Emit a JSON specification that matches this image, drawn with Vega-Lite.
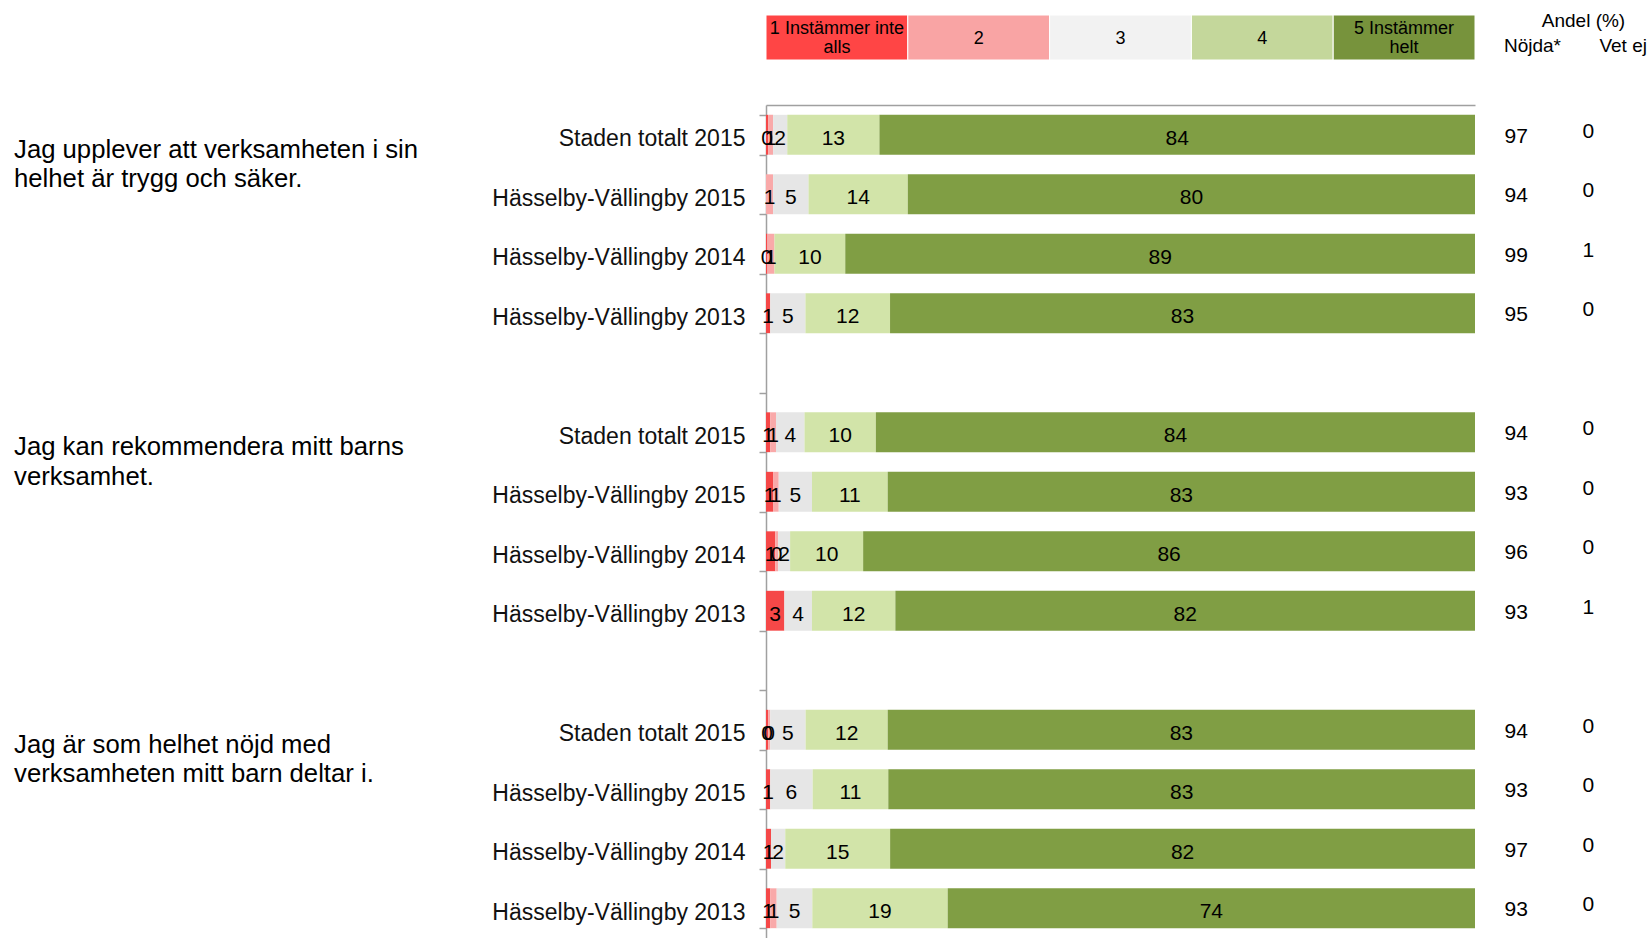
{
  "$schema": "https://vega.github.io/schema/vega-lite/v6.json",
  "autosize": {"type": "pad"},
  "padding": {"left": 14, "top": 12, "right": 0, "bottom": 0},
  "background": "white",
  "config": {
    "view": {"stroke": null},
    "font": "Liberation Sans",
    "axisY": {"labelFontSize": 23, "labelColor": "#111", "labelLimit": 500, "labelPadding": 14, "labelOffset": 4,
      "tickBand": "extent", "tickSize": 7, "tickColor": "#A0A0A0", "tickWidth": 1.5, "domainColor": "#A0A0A0", "domainWidth": 1.5, "grid": false, "title": null},
    "axisX": {"labels": false, "ticks": false, "grid": false, "domainColor": "#A0A0A0", "domainWidth": 1.5, "title": null}
  },
  "datasets": {
    "seg": [
      {"slot": "a1|Staden totalt 2015", "cat": 1, "v": 0.3},
      {"slot": "a1|Staden totalt 2015", "cat": 2, "v": 0.7},
      {"slot": "a1|Staden totalt 2015", "cat": 3, "v": 2},
      {"slot": "a1|Staden totalt 2015", "cat": 4, "v": 13},
      {"slot": "a1|Staden totalt 2015", "cat": 5, "v": 84},
      {"slot": "a2|Hässelby-Vällingby 2015", "cat": 2, "v": 1},
      {"slot": "a2|Hässelby-Vällingby 2015", "cat": 3, "v": 5},
      {"slot": "a2|Hässelby-Vällingby 2015", "cat": 4, "v": 14},
      {"slot": "a2|Hässelby-Vällingby 2015", "cat": 5, "v": 80},
      {"slot": "a3|Hässelby-Vällingby 2014", "cat": 1, "v": 0.2},
      {"slot": "a3|Hässelby-Vällingby 2014", "cat": 2, "v": 1},
      {"slot": "a3|Hässelby-Vällingby 2014", "cat": 4, "v": 10},
      {"slot": "a3|Hässelby-Vällingby 2014", "cat": 5, "v": 89},
      {"slot": "a4|Hässelby-Vällingby 2013", "cat": 1, "v": 0.6},
      {"slot": "a4|Hässelby-Vällingby 2013", "cat": 3, "v": 5},
      {"slot": "a4|Hässelby-Vällingby 2013", "cat": 4, "v": 12},
      {"slot": "a4|Hässelby-Vällingby 2013", "cat": 5, "v": 83},
      {"slot": "b1|Staden totalt 2015", "cat": 1, "v": 0.6},
      {"slot": "b1|Staden totalt 2015", "cat": 2, "v": 0.8},
      {"slot": "b1|Staden totalt 2015", "cat": 3, "v": 4},
      {"slot": "b1|Staden totalt 2015", "cat": 4, "v": 10},
      {"slot": "b1|Staden totalt 2015", "cat": 5, "v": 84},
      {"slot": "b2|Hässelby-Vällingby 2015", "cat": 1, "v": 1},
      {"slot": "b2|Hässelby-Vällingby 2015", "cat": 2, "v": 0.8},
      {"slot": "b2|Hässelby-Vällingby 2015", "cat": 3, "v": 4.7},
      {"slot": "b2|Hässelby-Vällingby 2015", "cat": 4, "v": 10.7},
      {"slot": "b2|Hässelby-Vällingby 2015", "cat": 5, "v": 83},
      {"slot": "b3|Hässelby-Vällingby 2014", "cat": 1, "v": 1.3},
      {"slot": "b3|Hässelby-Vällingby 2014", "cat": 2, "v": 0.4},
      {"slot": "b3|Hässelby-Vällingby 2014", "cat": 3, "v": 1.7},
      {"slot": "b3|Hässelby-Vällingby 2014", "cat": 4, "v": 10.3},
      {"slot": "b3|Hässelby-Vällingby 2014", "cat": 5, "v": 86.3},
      {"slot": "b4|Hässelby-Vällingby 2013", "cat": 1, "v": 2.6},
      {"slot": "b4|Hässelby-Vällingby 2013", "cat": 3, "v": 3.9},
      {"slot": "b4|Hässelby-Vällingby 2013", "cat": 4, "v": 11.8},
      {"slot": "b4|Hässelby-Vällingby 2013", "cat": 5, "v": 82},
      {"slot": "c1|Staden totalt 2015", "cat": 1, "v": 0.3},
      {"slot": "c1|Staden totalt 2015", "cat": 2, "v": 0.3},
      {"slot": "c1|Staden totalt 2015", "cat": 3, "v": 5},
      {"slot": "c1|Staden totalt 2015", "cat": 4, "v": 11.6},
      {"slot": "c1|Staden totalt 2015", "cat": 5, "v": 83},
      {"slot": "c2|Hässelby-Vällingby 2015", "cat": 1, "v": 0.6},
      {"slot": "c2|Hässelby-Vällingby 2015", "cat": 3, "v": 6},
      {"slot": "c2|Hässelby-Vällingby 2015", "cat": 4, "v": 10.7},
      {"slot": "c2|Hässelby-Vällingby 2015", "cat": 5, "v": 83},
      {"slot": "c3|Hässelby-Vällingby 2014", "cat": 1, "v": 0.7},
      {"slot": "c3|Hässelby-Vällingby 2014", "cat": 3, "v": 2},
      {"slot": "c3|Hässelby-Vällingby 2014", "cat": 4, "v": 14.7},
      {"slot": "c3|Hässelby-Vällingby 2014", "cat": 5, "v": 82},
      {"slot": "c4|Hässelby-Vällingby 2013", "cat": 1, "v": 0.6},
      {"slot": "c4|Hässelby-Vällingby 2013", "cat": 2, "v": 0.9},
      {"slot": "c4|Hässelby-Vällingby 2013", "cat": 3, "v": 5},
      {"slot": "c4|Hässelby-Vällingby 2013", "cat": 4, "v": 19},
      {"slot": "c4|Hässelby-Vällingby 2013", "cat": 5, "v": 74}
    ],
    "sum": [
      {"slot": "a1|Staden totalt 2015", "nojda": 97, "vetej": 0},
      {"slot": "a2|Hässelby-Vällingby 2015", "nojda": 94, "vetej": 0},
      {"slot": "a3|Hässelby-Vällingby 2014", "nojda": 99, "vetej": 1},
      {"slot": "a4|Hässelby-Vällingby 2013", "nojda": 95, "vetej": 0},
      {"slot": "b1|Staden totalt 2015", "nojda": 94, "vetej": 0},
      {"slot": "b2|Hässelby-Vällingby 2015", "nojda": 93, "vetej": 0},
      {"slot": "b3|Hässelby-Vällingby 2014", "nojda": 96, "vetej": 0},
      {"slot": "b4|Hässelby-Vällingby 2013", "nojda": 93, "vetej": 1},
      {"slot": "c1|Staden totalt 2015", "nojda": 94, "vetej": 0},
      {"slot": "c2|Hässelby-Vällingby 2015", "nojda": 93, "vetej": 0},
      {"slot": "c3|Hässelby-Vällingby 2014", "nojda": 97, "vetej": 0},
      {"slot": "c4|Hässelby-Vällingby 2013", "nojda": 93, "vetej": 0}
    ],
    "questions": [
      {"slot": "a1|Staden totalt 2015", "q": "Jag upplever att verksamheten i sin\nhelhet är trygg och säker."},
      {"slot": "b1|Staden totalt 2015", "q": "Jag kan rekommendera mitt barns\nverksamhet."},
      {"slot": "c1|Staden totalt 2015", "q": "Jag är som helhet nöjd med\nverksamheten mitt barn deltar i."}
    ],
    "legend": [
      {"cat": 1, "label": "1 Instämmer inte\nalls", "lines": 2},
      {"cat": 2, "label": "2", "lines": 1},
      {"cat": 3, "label": "3", "lines": 1},
      {"cat": 4, "label": "4", "lines": 1},
      {"cat": 5, "label": "5  Instämmer\nhelt", "lines": 2}
    ]
  },
  "bounds": "flush",
  "spacing": 45,
  "resolve": {"scale": {"color": "independent", "x": "independent", "y": "independent"}},
  "vconcat": [
    {
      "width": 709,
      "height": 45,
      "resolve": {"scale": {"x": "independent"}},
      "layer": [
        {
          "data": {"name": "legend"},
          "layer": [
            {
              "mark": {"type": "rect", "stroke": "white", "strokeWidth": 1},
              "encoding": {
                "x": {"field": "cat", "type": "ordinal", "axis": null, "scale": {"paddingInner": 0, "paddingOuter": 0}},
                "color": {"field": "cat", "type": "ordinal", "legend": null,
                  "scale": {"domain": [1, 2, 3, 4, 5], "range": ["#FF4545", "#F9A4A4", "#F2F2F2", "#C4D79B", "#77933C"]}}
              }
            },
            {
              "transform": [{"filter": "datum.lines == 1"}],
              "mark": {"type": "text", "fontSize": 18, "color": "#000", "baseline": "middle", "align": "center", "dy": 1},
              "encoding": {
                "x": {"field": "cat", "type": "ordinal", "axis": null},
                "text": {"field": "label"}
              }
            },
            {
              "transform": [{"filter": "datum.lines == 2"}],
              "mark": {"type": "text", "fontSize": 18, "color": "#000", "lineBreak": "\n", "lineHeight": 19, "baseline": "middle", "align": "center", "dy": -9},
              "encoding": {
                "x": {"field": "cat", "type": "ordinal", "axis": null},
                "text": {"field": "label"}
              }
            }
          ]
        },
        {
          "data": {"values": [{"h": "Andel (%)"}]},
          "mark": {"type": "text", "fontSize": 19, "color": "#000", "dy": -16.5, "baseline": "middle", "align": "center"},
          "encoding": {
            "x": {"datum": 1.153, "type": "quantitative", "scale": {"domain": [0, 1]}, "axis": null},
            "text": {"field": "h"}
          }
        },
        {
          "data": {"values": [{"h": "Nöjda*"}]},
          "mark": {"type": "text", "fontSize": 19, "color": "#000", "dy": 8, "baseline": "middle", "align": "center"},
          "encoding": {
            "x": {"datum": 1.081, "type": "quantitative", "scale": {"domain": [0, 1]}, "axis": null},
            "text": {"field": "h"}
          }
        },
        {
          "data": {"values": [{"h": "Vet ej"}]},
          "mark": {"type": "text", "fontSize": 19, "color": "#000", "dy": 8, "baseline": "middle", "align": "center"},
          "encoding": {
            "x": {"datum": 1.209, "type": "quantitative", "scale": {"domain": [0, 1]}, "axis": null},
            "text": {"field": "h"}
          }
        }
      ]
    },
    {
      "width": 709,
      "height": 833,
      "layer": [
        {
          "data": {"name": "seg"},
          "transform": [
            {"stack": "v", "groupby": ["slot"], "sort": [{"field": "cat", "order": "ascending"}], "offset": "normalize", "as": ["x0", "x1"]},
            {"calculate": "(datum.x0 + datum.x1) / 2", "as": "xm"}
          ],
          "layer": [
            {
              "mark": {"type": "bar"},
              "encoding": {
                "y": {"field": "slot", "type": "nominal", "title": null,
                  "scale": {"domain": [
                    "a1|Staden totalt 2015", "a2|Hässelby-Vällingby 2015", "a3|Hässelby-Vällingby 2014", "a4|Hässelby-Vällingby 2013", "g1|",
                    "b1|Staden totalt 2015", "b2|Hässelby-Vällingby 2015", "b3|Hässelby-Vällingby 2014", "b4|Hässelby-Vällingby 2013", "g2|",
                    "c1|Staden totalt 2015", "c2|Hässelby-Vällingby 2015", "c3|Hässelby-Vällingby 2014", "c4|Hässelby-Vällingby 2013"],
                    "paddingInner": 0.33, "paddingOuter": 0.165},
                  "axis": {"labelExpr": "split(datum.value, '|')[1]"}},
                "x": {"field": "x0", "type": "quantitative", "title": null, "scale": {"domain": [0, 1], "nice": false},
                  "axis": {"orient": "top"}},
                "x2": {"field": "x1"},
                "color": {"field": "cat", "type": "ordinal", "legend": null,
                  "scale": {"domain": [1, 2, 3, 4, 5], "range": ["#F54848", "#F9A9A9", "#E6E6E6", "#D2E4A9", "#809E44"]}}
              }
            },
            {
              "mark": {"type": "text", "fontSize": 21, "color": "#000", "baseline": "middle", "align": "center", "dy": 4},
              "encoding": {
                "y": {"field": "slot", "type": "nominal", "title": null},
                "x": {"field": "xm", "type": "quantitative", "title": null, "scale": {"domain": [0, 1], "nice": false}},
                "text": {"field": "v", "type": "quantitative", "format": ".0f"}
              }
            }
          ]
        },
        {
          "data": {"name": "sum"},
          "layer": [
            {
              "mark": {"type": "text", "fontSize": 21, "color": "#000", "baseline": "middle", "align": "center", "dy": 2},
              "encoding": {
                "y": {"field": "slot", "type": "nominal", "title": null},
                "x": {"datum": 1.058, "type": "quantitative", "title": null, "scale": {"domain": [0, 1], "nice": false}},
                "text": {"field": "nojda", "type": "quantitative"}
              }
            },
            {
              "mark": {"type": "text", "fontSize": 21, "color": "#000", "baseline": "middle", "align": "center", "dy": -3},
              "encoding": {
                "y": {"field": "slot", "type": "nominal", "title": null},
                "x": {"datum": 1.16, "type": "quantitative", "title": null, "scale": {"domain": [0, 1], "nice": false}},
                "text": {"field": "vetej", "type": "quantitative"}
              }
            }
          ]
        },
        {
          "data": {"name": "questions"},
          "mark": {"type": "text", "fontSize": 25.7, "color": "#000", "baseline": "middle", "align": "left", "lineBreak": "\n", "lineHeight": 29.5, "dy": 15},
          "encoding": {
            "y": {"field": "slot", "type": "nominal", "title": null},
            "x": {"datum": -1.0606, "type": "quantitative", "title": null, "scale": {"domain": [0, 1], "nice": false}},
            "text": {"field": "q"}
          }
        }
      ]
    }
  ]
}
